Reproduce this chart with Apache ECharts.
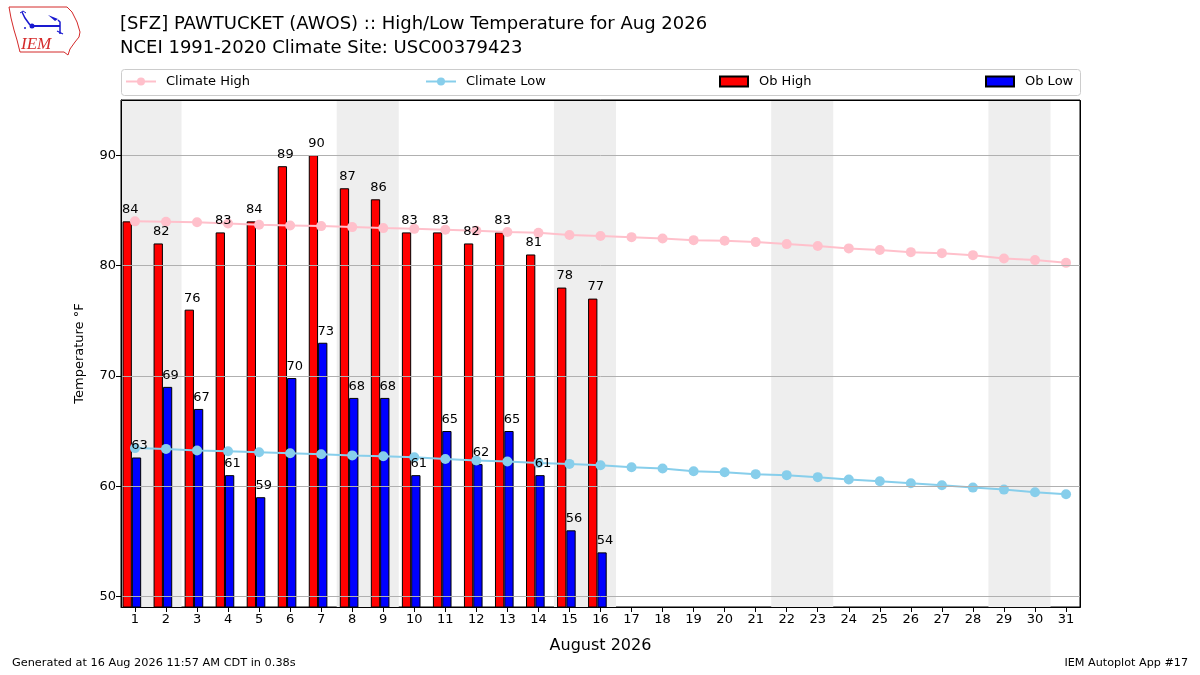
<!DOCTYPE html>
<html>
<head>
<meta charset="utf-8">
<script src="https://cdn.jsdelivr.net/npm/echarts@6/dist/echarts.min.js"></script>
<style>html,body{margin:0;padding:0;background:#fff}#c{width:1200px;height:675px}</style>
</head>
<body>
<div id="c"></div>
<script>
// ---- data ----
const days = [1,2,3,4,5,6,7,8,9,10,11,12,13,14,15,16,17,18,19,20,21,22,23,24,25,26,27,28,29,30,31];
const obHigh = [84,82,76,83,84,89,90,87,86,83,83,82,83,81,78,77];
const obLow = [62.6,69,67,61,59,69.8,73,68,68,61,65,62,65,61,56,54];
const climateHigh = [84.0,83.96,83.92,83.8,83.69,83.63,83.57,83.48,83.39,83.32,83.24,83.15,83.04,82.96,82.77,82.68,82.57,82.45,82.3,82.24,82.12,81.94,81.76,81.55,81.4,81.21,81.12,80.94,80.63,80.49,80.24];
const climateLow = [63.45,63.38,63.24,63.17,63.08,62.99,62.9,62.79,62.72,62.63,62.46,62.33,62.23,62.11,62.02,61.9,61.72,61.6,61.36,61.27,61.09,61.0,60.82,60.6,60.45,60.27,60.09,59.87,59.69,59.45,59.27];
const weekends = [[1,2],[8,9],[15,16],[22,23],[29,30]];
const yTicks = [50,60,70,80,90];

const FONT = 'DejaVu Sans';
const xMin = 0.55, xMax = 31.45;
const G = {left: 121, right: 120, top: 100, bottom: 68};

const chart = echarts.init(document.getElementById('c'), null, {renderer:'canvas'});

const highPts = obHigh.map((v, i) => [days[i] - 0.25, v]);
const lowPts = obLow.map((v, i) => [days[i] + 0.05, v]);

const labelSeries = (name, pts) => ({
  name: name, type: 'scatter', z: 10, silent: true, symbolSize: 0, symbol: 'circle',
  itemStyle: {color: '#000', opacity: 1},
  label: {
    show: true, position: 'top', distance: 5, offset: [3, 0],
    color: '#000', fontFamily: FONT, fontSize: 13, textBorderWidth: 0, opacity: 1,
    formatter: p => Math.round(p.value[1]).toString()
  },
  data: pts
});

const legTxt = pad => ({fontFamily: FONT, fontSize: 13, color: '#000', padding: [0,0,0,pad]});
const RED = '#d42a2a', BLUE = '#1a1ad0';

const option = {
  animation: false,
  backgroundColor: '#fff',
  textStyle: {fontFamily: FONT},
  title: {
    text: '[SFZ] PAWTUCKET (AWOS) :: High/Low Temperature for Aug 2026\nNCEI 1991-2020 Climate Site: USC00379423',
    left: 115, top: 7,
    textStyle: {fontFamily: FONT, fontSize: 18, fontWeight: 'normal', color: '#000', lineHeight: 24}
  },
  legend: [
    {data: ['Climate High'], left: 125, top: 75, padding: 0, itemWidth: 30, itemHeight: 10, textStyle: legTxt(5)},
    {data: ['Climate Low'], left: 425, top: 75, padding: 0, itemWidth: 30, itemHeight: 10, textStyle: legTxt(5)},
    {data: [{name: 'Ob High', icon: 'rect'}], left: 719, top: 75, padding: 0, itemWidth: 28, itemHeight: 10, textStyle: legTxt(6)},
    {data: [{name: 'Ob Low', icon: 'rect'}], left: 985, top: 75, padding: 0, itemWidth: 28, itemHeight: 10, textStyle: legTxt(6)}
  ],
  grid: Object.assign({show: true, borderColor: '#000', borderWidth: 1, backgroundColor: '#fff'}, G),
  xAxis: {
    type: 'value', min: xMin, max: xMax,
    name: 'August 2026', nameLocation: 'middle', nameGap: 31,
    nameTextStyle: {fontFamily: FONT, fontSize: 16, color: '#000'},
    axisLine: {show: true, lineStyle: {color: '#000'}},
    axisTick: {show: true, length: 5, lineStyle: {color: '#000'}, customValues: days},
    axisLabel: {color: '#000', fontFamily: FONT, fontSize: 13, margin: 6, customValues: days},
    splitLine: {show: false}
  },
  yAxis: {
    type: 'value', min: 49.05, max: 95,
    name: 'Temperature °F', nameLocation: 'middle', nameGap: 35,
    nameTextStyle: {fontFamily: FONT, fontSize: 13, color: '#000'},
    axisLine: {show: true, lineStyle: {color: '#000'}},
    axisTick: {show: true, length: 5, lineStyle: {color: '#000'}, customValues: yTicks},
    axisLabel: {color: '#000', fontFamily: FONT, fontSize: 13, margin: 5, customValues: yTicks},
    splitLine: {show: false}
  },
  series: [
    {
      name: 'weekend', type: 'line', data: [], z: 1, silent: true,
      markArea: {
        silent: true,
        itemStyle: {color: '#eeeeee'},
        data: weekends.map(w => [{xAxis: Math.max(xMin, w[0] - 0.5)}, {xAxis: Math.min(xMax, w[1] + 0.5)}])
      }
    },
    {
      name: 'grid', type: 'line', data: [], z: 2, silent: true,
      markLine: {
        silent: true, symbol: 'none', label: {show: false},
        lineStyle: {color: '#b0b0b0', width: 1, type: 'solid'},
        data: yTicks.map(v => ({yAxis: v}))
      }
    },
    {
      name: 'Ob High', type: 'bar', z: 3, barWidth: 9.3, barGap: '-100%',
      itemStyle: {color: '#ff0000', borderColor: '#000', borderWidth: 1},
      data: highPts
    },
    {
      name: 'Ob Low', type: 'bar', z: 3, barWidth: 9.3, barGap: '-100%',
      itemStyle: {color: '#0000ff', borderColor: '#000', borderWidth: 1},
      data: lowPts
    },
    {
      name: 'Climate High', type: 'line', z: 4, symbol: 'circle', symbolSize: 10,
      itemStyle: {color: '#ffc0cb'}, lineStyle: {color: '#ffc0cb', width: 2},
      data: climateHigh.map((v, i) => [days[i], v])
    },
    {
      name: 'Climate Low', type: 'line', z: 4, symbol: 'circle', symbolSize: 10,
      itemStyle: {color: '#87ceeb'}, lineStyle: {color: '#87ceeb', width: 2},
      data: climateLow.map((v, i) => [days[i], v])
    },
    labelSeries('hiLabels', highPts),
    labelSeries('loLabels', lowPts)
  ],
  graphic: [
    {type: 'rect', left: 121, top: 69, shape: {width: 959, height: 26, r: 3}, z: -1,
     style: {fill: '#fff', stroke: '#cccccc', lineWidth: 1}},
    {type: 'rect', x: G.left + 0.5, y: G.top + 0.5, shape: {width: 1200 - G.left - G.right, height: 675 - G.top - G.bottom}, z: 100, silent: true,
     style: {fill: null, stroke: '#000', lineWidth: 1}},
    {type: 'text', left: 12, top: 658, style: {text: 'Generated at 16 Aug 2026 11:57 AM CDT in 0.38s', fontFamily: FONT, fontSize: 11.3, fill: '#000'}},
    {type: 'text', right: 12, top: 658, style: {text: 'IEM Autoplot App #17', fontFamily: FONT, fontSize: 11.2, fill: '#000'}},
    // IEM logo (approximation)
    {type: 'polyline', shape: {points: [[9,7],[67,7],[72,12],[77,22],[80,32],[79,37],[75,42],[70,49],[68,55],[64,52],[20,52],[17,40],[14,30],[11,18],[9,7]]},
     style: {stroke: RED, fill: 'none', lineWidth: 1}},
    {type: 'polyline', shape: {points: [[30,26],[60,26]]}, style: {stroke: BLUE, lineWidth: 2}},
    {type: 'circle', shape: {cx: 32, cy: 26, r: 2.5}, style: {fill: BLUE}},
    {type: 'polyline', shape: {points: [[22,12],[25,18],[30,25]]}, style: {stroke: BLUE, lineWidth: 1.5, fill: 'none'}},
    {type: 'polyline', shape: {points: [[20,13],[23,11],[26,13]]}, style: {stroke: BLUE, lineWidth: 1, fill: 'none'}},
    {type: 'circle', shape: {cx: 25, cy: 28, r: 1}, style: {fill: BLUE}},
    {type: 'polygon', shape: {points: [[48,15],[58,19],[55,21]]}, style: {fill: BLUE}},
    {type: 'polyline', shape: {points: [[58,20],[60,22],[60,34]]}, style: {stroke: BLUE, lineWidth: 1.5, fill: 'none'}},
    {type: 'polyline', shape: {points: [[57,31],[63,34]]}, style: {stroke: BLUE, lineWidth: 1.2, fill: 'none'}},
    {type: 'text', left: 21, top: 36, style: {text: 'IEM', fontFamily: 'Liberation Serif', fontStyle: 'italic', fontSize: 17, fill: RED}}
  ]
};
chart.setOption(option);
</script>
</body>
</html>
